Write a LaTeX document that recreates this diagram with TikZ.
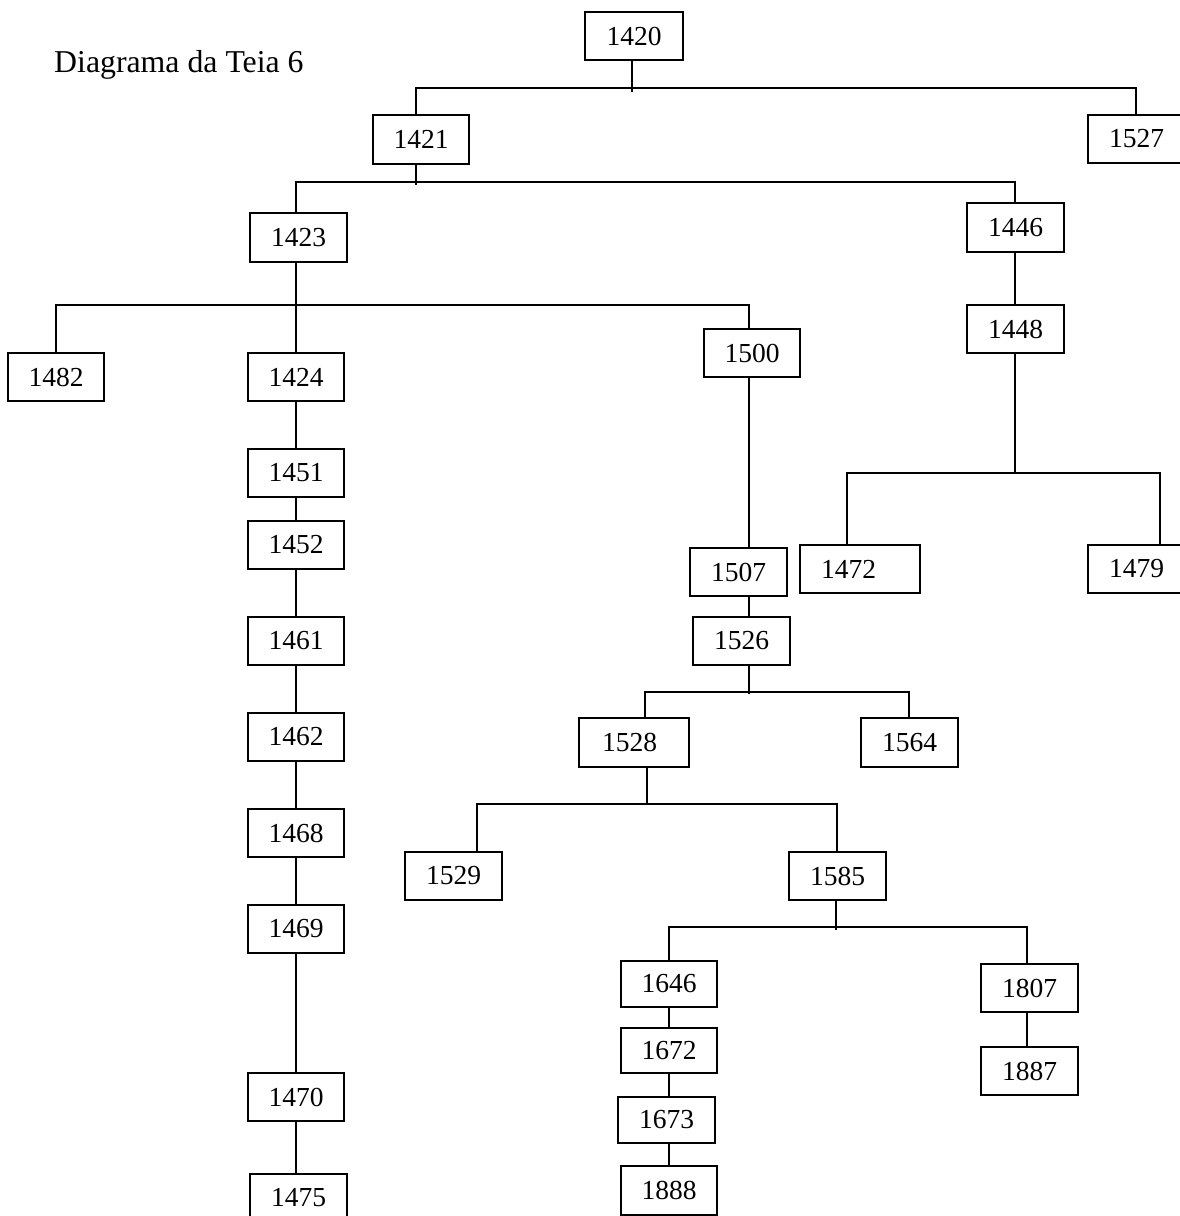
\documentclass[tikz,border=0pt]{standalone}
\usepackage{fontspec}
\setmainfont{Liberation Serif}
\begin{document}
\begin{tikzpicture}[x=1pt,y=-1pt,
  box/.style={draw, line width=2pt, inner sep=0pt, minimum height=48pt,
    font=\fontsize{27.5}{30}\selectfont},
  leftbox/.style={box, align=left},
  link/.style={line width=2pt},
  heading/.style={font=\fontsize{31.8}{36}\selectfont, inner sep=0pt, anchor=base west}]
\useasboundingbox (0,0) rectangle (1180,1216);
\clip (0,0) rectangle (1180,1216);

\node[heading] (title) at (54,72) {Diagrama da Teia 6};

% boxes
\node[box, minimum width=98pt] (n1420) at (634,36) {1420};
\node[box, minimum width=96pt, minimum height=49pt] (n1421) at (421,139.5) {1421};
\node[box, minimum width=97pt] (n1527) at (1136.5,139) {1527};
\node[box, minimum width=97pt, minimum height=49pt] (n1423) at (298.5,237.5) {1423};
\node[box, minimum width=97pt, minimum height=49pt] (n1446) at (1015.5,227.5) {1446};
\node[box, minimum width=96pt] (n1482) at (56,377) {1482};
\node[box, minimum width=96pt] (n1424) at (296,377) {1424};
\node[box, minimum width=96pt] (n1500) at (752,353) {1500};
\node[box, minimum width=97pt] (n1448) at (1015.5,329) {1448};
\node[box, minimum width=96pt] (n1451) at (296,473) {1451};
\node[box, minimum width=96pt] (n1452) at (296,545) {1452};
\node[box, minimum width=96pt] (n1461) at (296,641) {1461};
\node[box, minimum width=96pt] (n1462) at (296,737) {1462};
\node[box, minimum width=96pt] (n1468) at (296,833) {1468};
\node[box, minimum width=96pt] (n1469) at (296,929) {1469};
\node[box, minimum width=96pt] (n1470) at (296,1097) {1470};
\node[box, minimum width=97pt] (n1475) at (298.5,1198) {1475};
\node[leftbox, text width=78pt, inner xsep=21pt] (n1472) at (860,569) {1472};
\node[box, minimum width=97pt] (n1479) at (1136.5,569) {1479};
\node[box, minimum width=97pt] (n1507) at (738.5,572) {1507};
\node[box, minimum width=97pt] (n1526) at (741.5,641) {1526};
\node[leftbox, text width=64pt, inner xsep=23pt, minimum height=49pt] (n1528) at (634,742.5) {1528};
\node[box, minimum width=97pt, minimum height=49pt] (n1564) at (909.5,742.5) {1564};
\node[box, minimum width=97pt] (n1529) at (453.5,876) {1529};
\node[box, minimum width=97pt] (n1585) at (837.5,876) {1585};
\node[box, minimum width=96pt, minimum height=46pt] (n1646) at (669,984) {1646};
\node[box, minimum width=96pt, minimum height=45pt] (n1672) at (669,1050.5) {1672};
\node[box, minimum width=97pt, minimum height=46pt] (n1673) at (666.5,1120) {1673};
\node[box, minimum width=96pt, minimum height=49pt] (n1888) at (669,1190.5) {1888};
\node[box, minimum width=97pt] (n1807) at (1029.5,988) {1807};
\node[box, minimum width=97pt] (n1887) at (1029.5,1071) {1887};

% junction points of the branch lines
\coordinate (j1420) at (632,88);
\coordinate (j1421) at (416,182);
\coordinate (j1423) at (296,305);
\coordinate (j1448) at (1015,473);
\coordinate (j1526) at (749,692);
\coordinate (j1528) at (647,804);
\coordinate (j1585) at (836,927);

% 1420
\draw[link] ([xshift=-2pt]n1420.south) -- ([yshift=-4pt]j1420);
\draw[link] ([xshift=-5pt]n1421.north) |- (j1420) -| ([xshift=-0.5pt]n1527.north);
% 1421
\draw[link] ([xshift=-5pt]n1421.south) -- ([yshift=-3pt]j1421);
\draw[link] ([xshift=-2.5pt]n1423.north) |- (j1421) -| ([xshift=-0.5pt]n1446.north);
% 1423
\draw[link] ([xshift=-2.5pt]n1423.south) -- (n1424.north);
\draw[link] (n1482.north) |- (j1423) -| ([xshift=-3pt]n1500.north);
% left chain
\draw[link] (n1424.south) -- (n1451.north);
\draw[link] (n1451.south) -- (n1452.north);
\draw[link] (n1452.south) -- (n1461.north);
\draw[link] (n1461.south) -- (n1462.north);
\draw[link] (n1462.south) -- (n1468.north);
\draw[link] (n1468.south) -- (n1469.north);
\draw[link] (n1469.south) -- (n1470.north);
\draw[link] (n1470.south) -- ([xshift=-2.5pt]n1475.north);
% 1446 / 1448
\draw[link] ([xshift=-0.5pt]n1446.south) -- ([xshift=-0.5pt]n1448.north);
\draw[link] ([xshift=-0.5pt]n1448.south) -- (j1448);
\draw[link] ([xshift=-13pt]n1472.north) |- (j1448) -| ([xshift=23.5pt]n1479.north);
% 1500 branch
\draw[link] ([xshift=-3pt]n1500.south) -- ([xshift=10.5pt]n1507.north);
\draw[link] ([xshift=10.5pt]n1507.south) -- ([xshift=7.5pt]n1526.north);
\draw[link] ([xshift=7.5pt]n1526.south) -- ([yshift=-2pt]j1526);
\draw[link] ([xshift=11pt]n1528.north) |- (j1526) -| ([xshift=-0.5pt]n1564.north);
\draw[link] ([xshift=13pt]n1528.south) -- (j1528);
\draw[link] ([xshift=23.5pt]n1529.north) |- (j1528) -| ([xshift=-0.5pt]n1585.north);
\draw[link] ([xshift=-1.5pt]n1585.south) -- ([yshift=-2.5pt]j1585);
\draw[link] (n1646.north) |- (j1585) -| ([xshift=-2.5pt]n1807.north);
\draw[link] (n1646.south) -- (n1672.north);
\draw[link] (n1672.south) -- ([xshift=2.5pt]n1673.north);
\draw[link] ([xshift=2.5pt]n1673.south) -- (n1888.north);
\draw[link] ([xshift=-2.5pt]n1807.south) -- ([xshift=-2.5pt]n1887.north);
\end{tikzpicture}
\end{document}
